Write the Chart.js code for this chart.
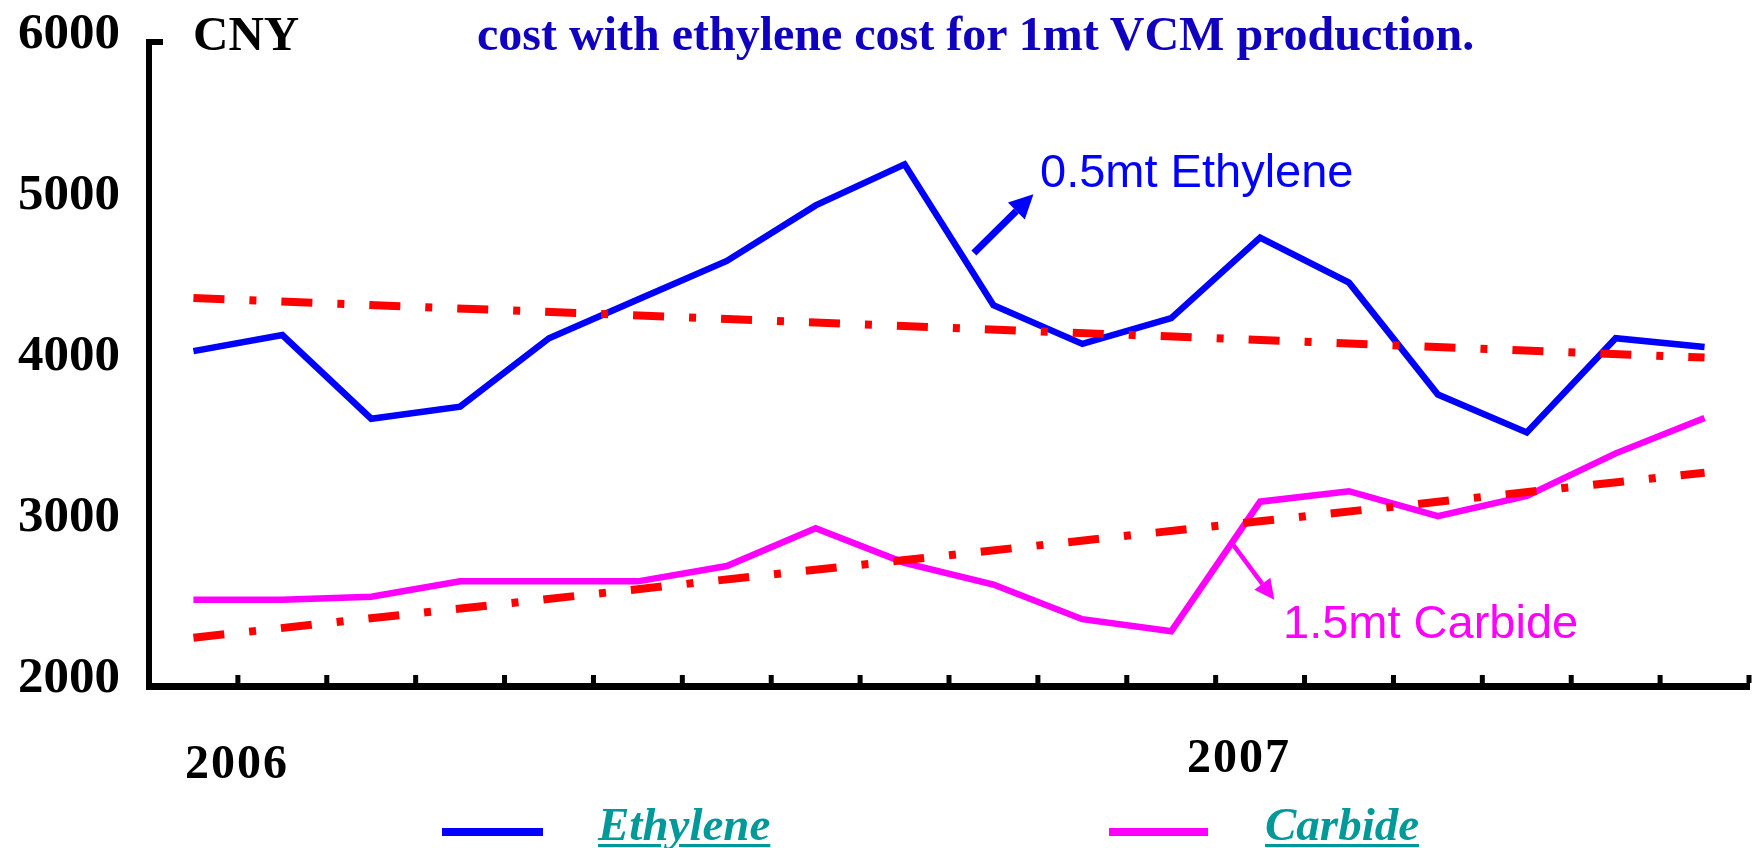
<!DOCTYPE html>
<html>
<head>
<meta charset="utf-8">
<script src="https://cdn.jsdelivr.net/npm/chart.js@4/dist/chart.umd.min.js"></script>
<style>
    html, body { margin: 0; padding: 0; background: #fff; }
    #wrap { position: relative; width: 1752px; height: 848px; overflow: hidden; }
    #chart { position: absolute; left: 0; top: 0; }
    .txt { position: absolute; white-space: nowrap; line-height: 1; }
    .serif { font-family: 'Liberation Serif', 'Times New Roman', serif; font-weight: bold; }
    .sans { font-family: 'Liberation Sans', Arial, sans-serif; }
    .swatch { position: absolute; height: 8px; }
    .legend-text {
        font-style: italic; color: #009999; font-size: 47px;
        text-decoration: underline; text-decoration-thickness: 3px; text-underline-offset: 4px;
    }
</style>
</head>
<body>
<div id="wrap">
    <canvas id="chart" width="1752" height="848"></canvas>

    <div class="txt serif" style="left:477px; top:10px; font-size:48px; color:#1000C0;">cost with ethylene cost for 1mt VCM production.</div>
    <div class="txt serif" style="left:193px; top:9px; font-size:49px; color:#000;">CNY</div>
    <div class="txt serif" style="left:185px; top:738px; font-size:48px; letter-spacing:2px; color:#000;">2006</div>
    <div class="txt serif" style="left:1187px; top:732px; font-size:48px; letter-spacing:2px; color:#000;">2007</div>

    <div class="txt sans" style="left:1040px; top:147px; font-size:47px; color:#0000FF;">0.5mt Ethylene</div>
    <div class="txt sans" style="left:1283px; top:598px; font-size:47px; color:#FF00FF;">1.5mt Carbide</div>

    <!-- legend -->
    <div class="swatch" style="left:442px; top:828px; width:101px; background:#0000FF;"></div>
    <div class="txt serif legend-text" style="left:598px; top:801px;">Ethylene</div>
    <div class="swatch" style="left:1109px; top:828px; width:99px; background:#FF00FF;"></div>
    <div class="txt serif legend-text" style="left:1265px; top:801px;">Carbide</div>
</div>

<script>
// --- Data (CNY per 1mt VCM) ---
const months = [
    '2006-01', '2006-02', '2006-03', '2006-04', '2006-05', '2006-06',
    '2006-07', '2006-08', '2006-09', '2006-10', '2006-11', '2006-12',
    '2007-01', '2007-02', '2007-03', '2007-04', '2007-05', '2007-06'
];
const ethyleneCost = [4080, 4180, 3660, 3735, 4160, 4400, 4640, 4985, 5240, 4365, 4125, 4285, 4785, 4505, 3810, 3575, 4160, 4105];
const carbideCost  = [2535, 2535, 2555, 2650, 2650, 2650, 2745, 2980, 2765, 2630, 2415, 2340, 3145, 3210, 3055, 3180, 3445, 3665];
const ethyleneTrend = [4410, null, null, null, null, null, null, null, null, null, null, null, null, null, null, null, null, 4040];
const carbideTrend  = [2300, null, null, null, null, null, null, null, null, null, null, null, null, null, null, null, null, 3325];
const yTicks = [2000, 3000, 4000, 5000, 6000];

// annotation arrows, given in data units (category index, value)
const arrows = [
    { from: [8.78, 4690], to: [9.45, 5055], color: '#0000FF', width: 7, head: 24 },
    { from: [11.70, 2875], to: [12.16, 2535], color: '#FF00FF', width: 4.5, head: 20 }
];

// --- Plugin: inward x ticks, y-axis top stub, arrows ---
const extrasPlugin = {
    id: 'extras',
    afterDraw(chart) {
        const { ctx, chartArea, scales } = chart;
        const x = scales.x, y = scales.y;
        ctx.save();
        ctx.fillStyle = '#000';

        // small ticks pointing up from the x axis at category boundaries
        const axisTop = chartArea.bottom - 3;
        for (let i = 0; i < months.length; i++) {
            const px = i < months.length - 1
                ? (x.getPixelForValue(i) + x.getPixelForValue(i + 1)) / 2
                : chartArea.right;
            ctx.fillRect(px - 2.5, axisTop - 8, 5, 8);
        }

        // stub at the top of the y axis
        const topPx = y.getPixelForValue(6000);
        ctx.fillRect(chartArea.left - 3, topPx - 3, 17, 6);

        // arrows
        arrows.forEach(a => {
            const x1 = x.getPixelForValue(a.from[0]), y1 = y.getPixelForValue(a.from[1]);
            const x2 = x.getPixelForValue(a.to[0]),   y2 = y.getPixelForValue(a.to[1]);
            const ang = Math.atan2(y2 - y1, x2 - x1);
            const bx = x2 - Math.cos(ang) * a.head, by = y2 - Math.sin(ang) * a.head;
            ctx.strokeStyle = a.color;
            ctx.fillStyle = a.color;
            ctx.lineWidth = a.width;
            ctx.lineCap = 'butt';
            ctx.beginPath();
            ctx.moveTo(x1, y1);
            ctx.lineTo(bx, by);
            ctx.stroke();
            ctx.beginPath();
            ctx.moveTo(x2, y2);
            ctx.lineTo(bx + Math.sin(ang) * a.head * 0.5, by - Math.cos(ang) * a.head * 0.5);
            ctx.lineTo(bx - Math.sin(ang) * a.head * 0.5, by + Math.cos(ang) * a.head * 0.5);
            ctx.closePath();
            ctx.fill();
        });
        ctx.restore();
    }
};

const lineStyle = {
    pointRadius: 0,
    tension: 0,
    fill: false,
    borderJoinStyle: 'miter',
    borderCapStyle: 'butt'
};

new Chart(document.getElementById('chart').getContext('2d'), {
    type: 'line',
    data: {
        labels: months,
        datasets: [
            { label: 'Ethylene trend', data: ethyleneTrend, borderColor: '#FF0000', borderWidth: 8,
              borderDash: [31, 25, 7, 25], spanGaps: true, order: 0, ...lineStyle },
            { label: 'Carbide trend', data: carbideTrend, borderColor: '#FF0000', borderWidth: 8,
              borderDash: [31, 25, 7, 25], spanGaps: true, order: 0, ...lineStyle },
            { label: 'Ethylene', data: ethyleneCost, borderColor: '#0000FF', borderWidth: 6.5, order: 1, ...lineStyle },
            { label: 'Carbide', data: carbideCost, borderColor: '#FF00FF', borderWidth: 6.5, order: 1, ...lineStyle }
        ]
    },
    options: {
        responsive: false,
        animation: false,
        layout: { padding: { top: 42, right: 3, left: 0, bottom: 0 } },
        plugins: {
            legend: { display: false },
            tooltip: { enabled: false }
        },
        scales: {
            x: {
                type: 'category',
                offset: true,
                grid: { display: false, drawTicks: false },
                border: { display: true, color: '#000', width: 7 },
                ticks: { display: false },
                afterFit(scale) {
                    scale.height = 162;
                    scale.paddingLeft = scale.paddingRight = 0;
                }
            },
            y: {
                min: 2000,
                max: 6000,
                grid: { display: false, drawTicks: false },
                border: { display: true, color: '#000', width: 6 },
                afterBuildTicks(scale) { scale.ticks = yTicks.map(v => ({ value: v })); },
                ticks: {
                    padding: 29,
                    labelOffset: -7,
                    color: '#000',
                    font: { family: "'Liberation Serif', 'Times New Roman', serif", size: 51, weight: 'bold' },
                    callback: v => String(v)
                },
                afterFit(scale) {
                    scale.width = 149;
                    scale.paddingTop = scale.paddingBottom = 0;
                }
            }
        }
    },
    plugins: [extrasPlugin]
});
</script>
</body>
</html>
